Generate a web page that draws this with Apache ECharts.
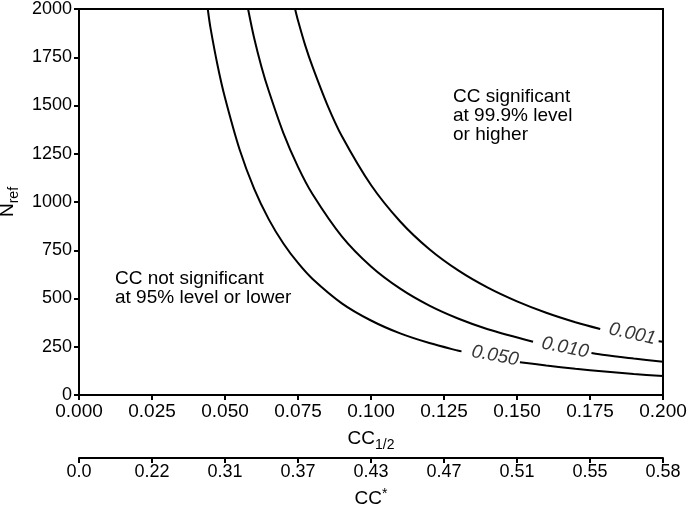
<!DOCTYPE html>
<html><head><meta charset="utf-8">
<script src="https://cdn.jsdelivr.net/npm/echarts@6/dist/echarts.min.js"></script>
<style>html,body{margin:0;padding:0;background:#fff}#c{width:692px;height:505px}</style>
</head><body><div id="c"></div>
<script>
// CC1/2 axis ticks and matching CC* labels
var ccHalfTicks = [0.000, 0.025, 0.050, 0.075, 0.100, 0.125, 0.150, 0.175, 0.200];
var ccStarLabels = ['0.0', '0.22', '0.31', '0.37', '0.43', '0.47', '0.51', '0.55', '0.58'];

// Threshold curves [CC1/2, Nref]; null marks the gap where the label sits
var curve050 = [[0.0441,2000],[0.045,1905],[0.0475,1705],[0.05,1540],[0.055,1272],[0.06,1068],[0.065,910],[0.07,785],[0.075,684],[0.08,601],[0.09,475],[0.10,386],[0.11,319],[0.12,269],[0.13,229],[0.131,226],null,[0.151,170],[0.16,153],[0.17,136],[0.18,122],[0.19,109],[0.20,98]];
var curve010 = [[0.0579,2000],[0.06,1848],[0.0625,1700],[0.065,1575],[0.07,1357],[0.075,1182],[0.08,1040],[0.09,822],[0.10,666],[0.11,551],[0.12,463],[0.13,395],[0.14,341],[0.1555,276],null,[0.1755,218],[0.18,207],[0.19,189],[0.20,172]];
var curve001 = [[0.0740,2000],[0.075,1940],[0.0775,1810],[0.08,1700],[0.085,1505],[0.09,1342],[0.10,1088],[0.11,899],[0.12,755],[0.13,644],[0.14,556],[0.15,485],[0.16,426],[0.17,377],[0.1785,342],null,[0.1985,279],[0.20,276]];
var curveLabels = ['0.050', '0.010', '0.001'];
var labelAt = [[0.1425, 203], [0.1665, 245], [0.1895, 316]];
var labelTilt = [10.5, 11.5, 12.5];

var FONT = 'Liberation Sans, Arial, sans-serif';
var chart = echarts.init(document.getElementById('c'));

var series = [];
[curve050, curve010, curve001].forEach(function (d, i) {
  series.push({
    type: 'line', data: d, showSymbol: false, smooth: 0.3, connectNulls: false, silent: true,
    lineStyle: {color: '#000', width: 2}
  });
  series.push({
    type: 'scatter', data: [labelAt[i]], symbolSize: 1, silent: true,
    itemStyle: {color: 'rgba(0,0,0,0)'},
    label: {show: true, position: 'inside', formatter: curveLabels[i], rotate: -labelTilt[i],
      fontFamily: FONT, fontStyle: 'italic', fontSize: 19, color: '#000'}
  });
});

chart.setOption({
  animation: false,
  backgroundColor: '#fff',
  grid: {left: 79, right: 29, top: 9, bottom: 110, containLabel: false, outerBoundsMode: 'none',
    show: true, borderColor: '#000', borderWidth: 2},
  xAxis: [{
    type: 'value', min: 0, max: 0.2, interval: 0.025, position: 'bottom',
    axisLine: {show: true, lineStyle: {color: '#000', width: 2}},
    axisTick: {show: true, inside: false, length: 5, lineStyle: {color: '#000', width: 2}},
    splitLine: {show: false},
    axisLabel: {color: '#000', fontFamily: FONT, fontSize: 19, margin: 7,
      formatter: function (v) { return v.toFixed(3); }},
    name: '{a|CC}{s|1/2}', nameLocation: 'middle', nameGap: 31,
    nameTextStyle: {rich: {a: {fontFamily: FONT, fontSize: 19, color: '#000'},
      s: {fontFamily: FONT, fontSize: 14, color: '#000', verticalAlign: 'bottom', padding: [12, 0, 0, 0]}}}
  }, {
    type: 'category', data: ccStarLabels, boundaryGap: false, position: 'bottom', offset: 63,
    axisLine: {show: true, onZero: false, lineStyle: {color: '#000', width: 2}},
    axisTick: {show: true, inside: false, length: 5, alignWithLabel: true, lineStyle: {color: '#000', width: 2}},
    axisLabel: {color: '#000', fontFamily: FONT, fontSize: 18, margin: 5, interval: 0},
    splitLine: {show: false},
    name: '{a|CC}{s|*}', nameLocation: 'middle', nameGap: 29,
    nameTextStyle: {rich: {a: {fontFamily: FONT, fontSize: 19, color: '#000'},
      s: {fontFamily: FONT, fontSize: 14, color: '#000', verticalAlign: 'top', padding: [0, 0, 9, 0]}}}
  }],
  yAxis: [{
    type: 'value', min: 0, max: 2000, interval: 250,
    axisLine: {show: true, lineStyle: {color: '#000', width: 2}},
    axisTick: {show: true, inside: false, length: 5, lineStyle: {color: '#000', width: 2}},
    splitLine: {show: false},
    axisLabel: {color: '#000', fontFamily: FONT, fontSize: 18, margin: 7,
      formatter: function (v) { return String(v); }},
    name: '{a|N}{s|ref}', nameLocation: 'middle', nameGap: 55, nameRotate: 90,
    nameTextStyle: {rich: {a: {fontFamily: FONT, fontSize: 19, color: '#000'},
      s: {fontFamily: FONT, fontSize: 14, color: '#000', verticalAlign: 'bottom', padding: [12, 0, 0, 0]}}}
  }],
  graphic: [
    {type: 'text', left: 115, top: 269, style: {text: 'CC not significant\nat 95% level or lower', font: '19px ' + FONT, fill: '#000', lineHeight: 19}},
    {type: 'text', left: 453, top: 87, style: {text: 'CC significant\nat 99.9% level\nor higher', font: '19px ' + FONT, fill: '#000', lineHeight: 19}}
  ],
  series: series
});
</script></body></html>
